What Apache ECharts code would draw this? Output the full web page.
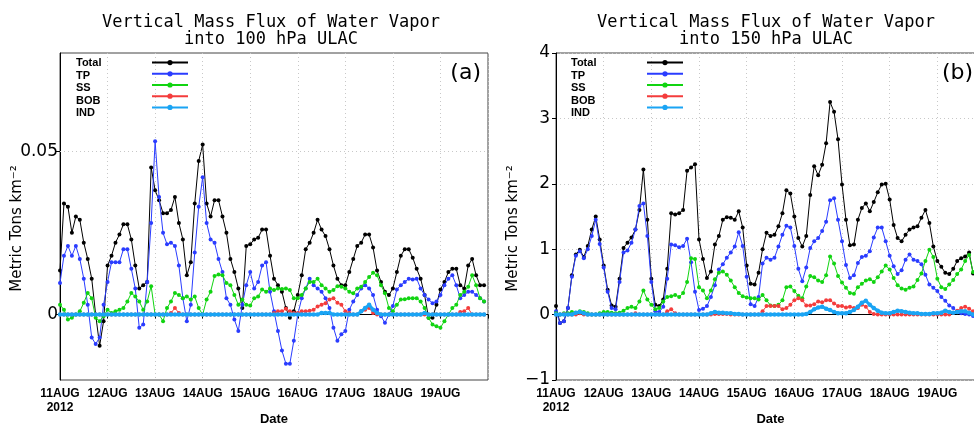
<!DOCTYPE html>
<html>
<head>
<meta charset="utf-8">
<script src="https://cdn.jsdelivr.net/npm/echarts@6/dist/echarts.min.js"></script>
<style>html,body{margin:0;padding:0;overflow:hidden;background:#fff}</style>
</head>
<body>
<div id="main" style="width:974px;height:424px"></div>
<script type="text/javascript">
// 2-hourly samples, 11 AUG 00Z .. 19 AUG 22Z 2012 (12 values per day)
var dayLabels = ['11AUG\n2012', '12AUG', '13AUG', '14AUG', '15AUG', '16AUG', '17AUG', '18AUG', '19AUG', ''];
var seriesNames = ['Total', 'TP', 'SS', 'BOB', 'IND'];
var yTicksA = [0, 0.05];

// panel (a): 100 hPa
var totalA = [
    0.0135, 0.034, 0.033, 0.025, 0.030, 0.029, 0.022, 0.017, 0.011, 0.000, -0.0095, -0.002,
    0.015, 0.018, 0.022, 0.0245, 0.0276, 0.0276, 0.023, 0.015, 0.008, 0.009, 0.010, 0.045,
    0.038, 0.035, 0.031, 0.031, 0.032, 0.036, 0.028, 0.023, 0.012, 0.016, 0.034, 0.047,
    0.052, 0.034, 0.030, 0.035, 0.035, 0.030, 0.025, 0.017, 0.013, 0.008, 0.002, 0.021,
    0.0215, 0.023, 0.0235, 0.026, 0.026, 0.018, 0.011, 0.009, 0.007, 0.002, -0.001, 0.001,
    0.006, 0.012, 0.020, 0.022, 0.025, 0.029, 0.026, 0.024, 0.020, 0.015, 0.011, 0.009,
    0.009, 0.013, 0.017, 0.021, 0.022, 0.0245, 0.0245, 0.0205, 0.0135, 0.010, 0.007, 0.006,
    0.008, 0.013, 0.018, 0.020, 0.020, 0.0174, 0.014, 0.011, 0.006, -0.001, -0.001, 0.003,
    0.0077, 0.010, 0.013, 0.014, 0.014, 0.009, 0.008, 0.015, 0.017, 0.012, 0.009, 0.009
];
var tpA = [
    0.0097, 0.018, 0.021, 0.018, 0.021, 0.017, 0.011, 0.003, -0.007, -0.009, -0.007, 0.003,
    0.010, 0.016, 0.016, 0.016, 0.020, 0.020, 0.014, 0.008, -0.004, -0.003, 0.010, 0.028,
    0.053, 0.036, 0.025, 0.0215, 0.022, 0.021, 0.015, 0.005, -0.002, 0.003, 0.019, 0.033,
    0.042, 0.028, 0.023, 0.022, 0.017, 0.013, 0.005, 0.003, -0.0015, -0.005, 0.003, 0.009,
    0.013, 0.008, 0.010, 0.015, 0.016, 0.007, 0.001, -0.005, -0.011, -0.015, -0.015, -0.008,
    0.000, 0.005, 0.008, 0.011, 0.009, 0.008, 0.007, 0.005, 0.002, -0.004, -0.008, -0.006,
    -0.005, 0.0015, 0.004, 0.006, 0.008, 0.009, 0.008, 0.006, 0.0015, -0.0005, -0.0025, 0.000,
    0.0026, 0.0077, 0.009, 0.010, 0.011, 0.0107, 0.011, 0.008, 0.006, 0.0046, 0.0035, 0.004,
    0.006, 0.009, 0.011, 0.012, 0.009, 0.005, 0.006, 0.007, 0.007, 0.006, 0.005, 0.004
];
var ssA = [
    0.003, 0.0015, -0.0015, -0.001, 0.000, 0.001, 0.0036, 0.0066, 0.005, -0.001, -0.002, -0.0005,
    0.0015, 0.0005, 0.001, 0.0015, 0.002, 0.004, 0.0066, 0.0055, 0.004, 0.0015, 0.004, 0.0087,
    0.000, 0.000, -0.002, 0.002, 0.004, 0.0066, 0.006, 0.005, 0.0055, 0.0046, 0.0055, 0.002,
    0.000, 0.0046, 0.007, 0.0118, 0.0123, 0.012, 0.0097, 0.009, 0.006, 0.003, 0.0046, 0.003,
    0.0028, 0.005, 0.0055, 0.0077, 0.007, 0.008, 0.0075, 0.008, 0.0078, 0.008, 0.0075, 0.005,
    0.005, 0.006, 0.008, 0.010, 0.010, 0.011, 0.009, 0.008, 0.007, 0.0075, 0.0087, 0.0085,
    0.008, 0.007, 0.0065, 0.008, 0.0085, 0.010, 0.0115, 0.0128, 0.012, 0.009, 0.0065, 0.002,
    0.001, 0.003, 0.0046, 0.0047, 0.005, 0.005, 0.005, 0.004, 0.002, -0.001, -0.003, -0.0036,
    -0.004, -0.002, 0.000, 0.002, 0.003, 0.006, 0.007, 0.0085, 0.012, 0.009, 0.005, 0.004
];
var bobA = [
    0, 0, 0, 0, 0, 0, 0, 0, 0, 0, 0, 0,
    0, 0, 0, 0, 0, 0, 0, 0, 0, 0, 0, 0,
    0, 0, 0, 0, 0.0005, 0.002, 0.0005, 0, 0, 0, 0, 0,
    0, 0, 0, 0, 0, 0, 0, 0, 0, 0, 0, 0,
    0, 0, 0, 0, 0, 0, 0.0005, 0.001, 0.001, 0.0018, 0.001, 0.0005,
    0.0005, 0.001, 0.001, 0.0012, 0.0015, 0.0025, 0.003, 0.0035, 0.0046, 0.005, 0.0036, 0.003,
    0.001, 0.0005, 0, 0, 0.001, 0.0015, 0.002, 0.0005, 0, 0, 0, 0,
    0, 0, 0, 0, 0, 0, 0, 0, 0, 0, 0, 0,
    0, 0, 0, 0, 0, 0.0008, 0.001, 0.002, 0, 0, 0, 0
];
var indA = [
    0, 0, 0, 0, 0, 0, 0, 0, 0, 0, 0, 0,
    0, 0, 0, 0, 0, 0, 0, 0, 0, 0, 0, 0,
    0, 0, 0, 0, 0, 0, 0, 0, 0, 0, 0, 0,
    0, 0, 0, 0, 0, 0, 0, 0, 0, 0, 0, 0,
    0, 0, 0, 0, 0, 0, 0, 0, 0, 0, 0, 0,
    0, 0, 0, 0, 0, 0, 0.0005, 0.0005, 0.0005, 0, 0, 0,
    0, 0, 0, 0, 0.001, 0.002, 0.003, 0.0015, 0.0005, 0, 0, 0,
    0, 0, 0, 0, 0, 0, 0, 0, 0.0005, 0, 0, 0,
    0, 0, 0, 0, 0, 0, 0, 0, 0, 0, 0, 0
];

// panel (b): 150 hPa
var totalB = [
    0.13, -0.13, -0.1, 0.1, 0.6, 0.92, 0.99, 0.88, 1.05, 1.3, 1.5, 1.15,
    0.75, 0.38, 0.14, 0.12, 0.55, 1.02, 1.1, 1.18, 1.3, 1.6, 2.22, 1.45,
    0.55, 0.15, 0.13, 0.23, 0.7, 1.55, 1.53, 1.55, 1.6, 2.2, 2.25, 2.3,
    1.15, 0.85, 0.56, 0.66, 1.07, 1.2, 1.45, 1.49, 1.48, 1.45, 1.58, 1.33,
    0.75, 0.47, 0.46, 0.64, 1.0, 1.25, 1.2, 1.22, 1.35, 1.55, 1.9, 1.85,
    1.5, 1.17, 1.04, 1.2, 1.83, 2.27, 2.13, 2.29, 2.62, 3.25, 3.1, 2.68,
    1.99, 1.45, 1.06, 1.07, 1.45, 1.63, 1.7, 1.58, 1.72, 1.87, 1.99, 2.0,
    1.76, 1.37, 1.17, 1.12, 1.22, 1.3, 1.33, 1.35, 1.48, 1.6, 1.4, 1.04,
    0.82, 0.73, 0.64, 0.62, 0.7, 0.82, 0.86, 0.89, 0.95, 0.63, 0.6, 0.6
];
var tpB = [
    0.05, -0.13, -0.1, 0.1, 0.58, 0.9, 0.97, 0.86, 1.0, 1.2, 1.45, 1.08,
    0.72, 0.35, 0.1, 0.08, 0.5, 0.95, 0.98, 1.1, 1.3, 1.66, 1.7, 1.2,
    0.5, 0.05, 0.04, 0.12, 0.55, 1.07, 1.06, 1.03, 1.05, 1.16, 0.8, 0.35,
    0.07, 0.09, 0.13, 0.27, 0.45, 0.69, 0.77, 0.87, 0.95, 1.04, 1.26, 1.05,
    0.58, 0.16, 0.13, 0.27, 0.78, 0.87, 0.84, 0.87, 1.04, 1.22, 1.36, 1.33,
    1.05, 0.7, 0.51, 0.72, 1.02, 1.12, 1.17, 1.28, 1.42, 1.75, 1.78, 1.45,
    1.12, 0.76, 0.56, 0.6, 0.79, 0.88, 0.9, 0.97, 1.18, 1.33, 1.33, 1.12,
    0.9, 0.74, 0.62, 0.68, 0.84, 0.92, 0.84, 0.82, 0.77, 0.61, 0.46, 0.41,
    0.36, 0.27, 0.21, 0.14, 0.1, 0.04, 0.02, 0.01, 0.0, -0.02, -0.03, -0.03
];
var ssB = [
    0.02, 0.0, 0.02, 0.02, 0.04, 0.03, 0.05, 0.04, 0.02, 0.0, 0.0, 0.02,
    0.04, 0.04, 0.03, 0.02, 0.03, 0.06, 0.1, 0.12, 0.1, 0.2, 0.37, 0.23,
    0.15, 0.08, 0.1, 0.2, 0.27, 0.28, 0.3, 0.27, 0.33, 0.5, 0.86, 0.85,
    0.42, 0.37, 0.25, 0.37, 0.54, 0.64, 0.66, 0.61, 0.52, 0.42, 0.33, 0.28,
    0.26, 0.25, 0.25, 0.23, 0.3, 0.22, 0.14, 0.13, 0.15, 0.22, 0.42, 0.43,
    0.36, 0.29, 0.25, 0.43, 0.59, 0.57, 0.52, 0.5, 0.6, 0.89, 0.78, 0.59,
    0.49, 0.41, 0.33, 0.32, 0.42, 0.47, 0.52, 0.54, 0.5, 0.57, 0.66, 0.75,
    0.69, 0.56, 0.45, 0.4, 0.38, 0.41, 0.43, 0.53, 0.63, 0.82, 0.99, 0.88,
    0.55, 0.42, 0.39, 0.46, 0.53, 0.62, 0.69, 0.82, 0.91, 0.65, 0.6, 0.6
];
var bobB = [
    0, 0, 0.01, 0, 0, 0, 0.02, 0, 0, 0, 0, 0,
    0, 0, 0, 0, 0, 0, 0, 0, 0.02, 0, 0, 0,
    0, 0, 0, 0, 0.05, 0.08, 0.02, 0, 0, 0, 0, 0,
    0, 0, 0, 0, 0.01, 0.01, 0.01, 0.01, 0, 0, 0, 0,
    0, 0, 0, 0, 0.05, 0.13, 0.13, 0.13, 0.13, 0.08, 0.1, 0.15,
    0.22, 0.25, 0.22, 0.14, 0.14, 0.16, 0.2, 0.19, 0.22, 0.22, 0.17, 0.13,
    0.13, 0.11, 0.12, 0.1, 0.1, 0.15, 0.12, 0.04, 0.01, 0, 0, 0,
    0, 0, 0, 0, 0, 0, 0, 0, 0, 0, 0, 0,
    0, 0, 0, 0, 0.03, 0.06, 0.1, 0.12, 0.09, 0.05, 0.03, 0.03
];
var indB = [
    0, 0, 0, 0, 0, 0.03, 0.04, 0.02, 0, 0, 0, 0,
    0, 0, 0, 0, 0, 0, 0, 0, 0, 0, 0, 0,
    0, 0, 0, 0, 0, 0, 0, 0, 0, 0, 0, 0,
    0, 0, 0, 0.02, 0.04, 0.03, 0.03, 0.02, 0.02, 0.01, 0.01, 0,
    0, 0, 0, 0, 0, 0, 0, 0, 0, 0, 0, 0,
    0, 0, 0, 0.01, 0.04, 0.08, 0.11, 0.12, 0.09, 0.07, 0.04, 0.02,
    0.02, 0.02, 0.04, 0.07, 0.12, 0.18, 0.21, 0.15, 0.1, 0.06, 0.03, 0.02,
    0.02, 0.04, 0.06, 0.05, 0.04, 0.03, 0.02, 0.02, 0.01, 0.01, 0.01, 0.02,
    0.02, 0.03, 0.06, 0.04, 0.03, 0.04, 0.05, 0.05, 0.03, 0, 0, 0
];

var colors = ['#000000', '#2a3cff', '#11d411', '#f43c3c', '#1aa4f4'];
var font = 'DejaVu Sans';
var boldFont = 'Liberation Sans';
var gridDots = {color: '#c8c8c8', type: [1, 3], width: 1};

function pairs(arr) {
    // hour offset from 11 AUG 00Z for each sample
    return arr.map(function (v, i) { return [i * 2, v]; });
}

function makeSeries(gridIdx, arrays) {
    return arrays.map(function (arr, i) {
        return {
            name: seriesNames[i],
            type: 'line',
            xAxisIndex: gridIdx,
            yAxisIndex: gridIdx,
            data: pairs(arr),
            symbol: 'circle',
            symbolSize: i === 4 ? 4.5 : 4,
            color: colors[i],
            lineStyle: {width: i === 4 ? 3 : 1, color: colors[i]},
            itemStyle: {color: colors[i]},
            emphasis: {disabled: true},
            animation: false,
            z: 2 + i
        };
    });
}

function xAxisFor(gridIdx) {
    return {
        gridIndex: gridIdx,
        type: 'value',
        min: 0,
        max: 216,
        interval: 24,
        name: 'Date',
        nameLocation: 'middle',
        nameGap: 33,
        nameMoveOverlap: false,
        nameTextStyle: {fontFamily: boldFont, fontWeight: 'bold', fontSize: 13, color: '#000'},
        axisLine: {lineStyle: {color: '#000', width: 1}},
        axisTick: {length: 4, lineStyle: {color: '#000'}},
        axisLabel: {
            fontFamily: boldFont, fontWeight: 'bold', fontSize: 12, color: '#000',
            lineHeight: 14, margin: 7,
            formatter: function (v) { return dayLabels[Math.round(v / 24)]; }
        },
        splitLine: {show: true, lineStyle: gridDots}
    };
}

// legend drawn as two columns: names on the left, line+dot samples on the right
function legendsFor(textLeft, iconLeft) {
    return [{
        orient: 'vertical', left: textLeft - 5, top: 57, padding: 0,
        itemWidth: 0, itemHeight: 12.5, itemGap: 0,
        selectedMode: false, icon: 'rect',
        itemStyle: {opacity: 0}, lineStyle: {opacity: 0},
        textStyle: {fontSize: 11, lineHeight: 12.5, fontWeight: 'bold', fontFamily: boldFont, color: '#000'},
        data: seriesNames
    }, {
        orient: 'vertical', left: iconLeft, top: 60, padding: 0,
        itemWidth: 36, itemHeight: 6.5, itemGap: 6,
        selectedMode: false,
        formatter: function () { return ''; },
        textStyle: {fontSize: 4, lineHeight: 4},
        data: seriesNames
    }];
}

var yName = 'Metric Tons km\u207B\u00B2';
var yNameStyle = {fontFamily: font, fontSize: 15, color: '#000', padding: [0, 24, 0, 0]};

var myChart = echarts.init(document.getElementById('main'), null, {renderer: 'canvas'});

var option = {
    backgroundColor: '#fff',
    animation: false,
    graphic: [
        {type: 'text', x: 271, y: 14, style: {text: 'Vertical Mass Flux of Water Vapor\ninto 100 hPa ULAC', align: 'center', font: '17px "DejaVu Sans Mono"', lineHeight: 17, fill: '#000'}},
        {type: 'text', x: 766, y: 14, style: {text: 'Vertical Mass Flux of Water Vapor\ninto 150 hPa ULAC', align: 'center', font: '17px "DejaVu Sans Mono"', lineHeight: 17, fill: '#000'}},
        {type: 'text', x: 481, y: 73, style: {text: '(a)', align: 'right', verticalAlign: 'middle', font: '22px "DejaVu Sans"', fill: '#000'}},
        {type: 'text', x: 942, y: 73, style: {text: '(b)', align: 'left', verticalAlign: 'middle', font: '22px "DejaVu Sans"', fill: '#000'}}
    ],
    legend: legendsFor(76, 151).concat(legendsFor(571, 646)),
    grid: [
        {left: 60, top: 53, width: 428, height: 327, outerBoundsMode: 'none', containLabel: false, show: true, borderColor: '#444', borderWidth: 1, backgroundColor: 'transparent'},
        {left: 556, top: 53, width: 429, height: 327, outerBoundsMode: 'none', containLabel: false, show: true, borderColor: '#444', borderWidth: 1, backgroundColor: 'transparent'}
    ],
    xAxis: [xAxisFor(0), xAxisFor(1)],
    yAxis: [
        {
            gridIndex: 0,
            type: 'value',
            min: -0.02,
            max: 0.08,
            name: yName,
            nameLocation: 'middle',
            nameGap: 35,
            nameMoveOverlap: false,
            nameTextStyle: yNameStyle,
            axisLine: {show: true, lineStyle: {color: '#000'}},
            axisTick: {show: true, length: 4, customValues: yTicksA, lineStyle: {color: '#000'}},
            axisLabel: {
                customValues: yTicksA, fontFamily: font, fontSize: 17, color: '#000', margin: 2,
                formatter: function (v) { return v === 0 ? '0' : String(v); }
            },
            splitLine: {show: false}
        },
        {
            gridIndex: 1,
            type: 'value',
            min: -1,
            max: 4,
            interval: 1,
            name: yName,
            nameLocation: 'middle',
            nameGap: 35,
            nameMoveOverlap: false,
            nameTextStyle: yNameStyle,
            axisLine: {show: true, lineStyle: {color: '#000'}},
            axisTick: {show: true, length: 4, lineStyle: {color: '#000'}},
            axisLabel: {
                fontFamily: font, fontSize: 17, color: '#000', margin: 6,
                formatter: function (v) { return v < 0 ? '\u2212' + (-v) : String(v); }
            },
            splitLine: {show: true, lineStyle: gridDots}
        }
    ],
    series: makeSeries(0, [totalA, tpA, ssA, bobA, indA]).concat(
        makeSeries(1, [totalB, tpB, ssB, bobB, indB]))
};

// dotted guide at the labelled 0.05 level of panel (a)
option.series[0].markLine = {
    silent: true,
    symbol: 'none',
    label: {show: false},
    lineStyle: gridDots,
    data: [{yAxis: yTicksA[1]}]
};

myChart.setOption(option);
</script>
</body>
</html>
